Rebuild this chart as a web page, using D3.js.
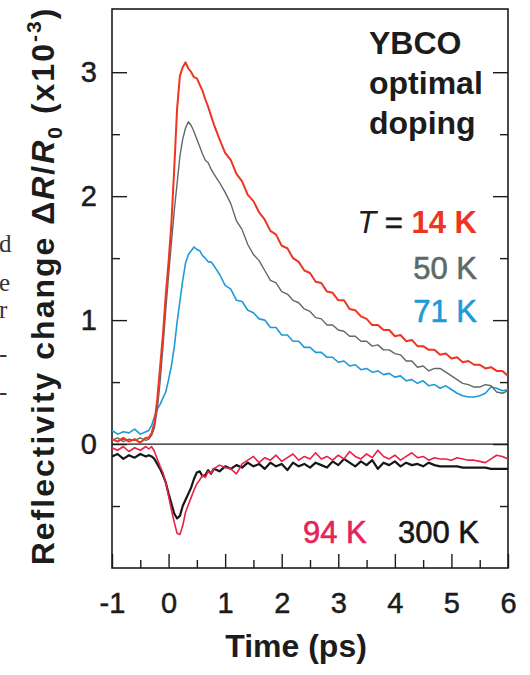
<!DOCTYPE html>
<html>
<head>
<meta charset="utf-8">
<script src="https://cdn.jsdelivr.net/npm/d3@7"></script>
<style>
  body { margin: 0; background: #fff; }
  svg { display: block; }
  .tick text { font-family: "Liberation Sans", Arial, sans-serif; font-size: 29px; fill: #1c1c1c; stroke: #1c1c1c; stroke-width: 0.5px; }
  .tick line { stroke: #1c1c1c; stroke-width: 1.4; }
</style>
</head>
<body>
<div id="chart"></div>
<script>
// time axis in ps (finer step around the rise)
const times = [-1.0, -0.9, -0.8, -0.7, -0.6, -0.5, -0.4,
  -0.35, -0.3, -0.25, -0.2, -0.15, -0.1, -0.05, 0, 0.05, 0.1, 0.15, 0.2, 0.25, 0.3, 0.35, 0.4,
  0.45, 0.5, 0.55, 0.6, 0.65, 0.7, 0.75, 0.8,
  0.9, 1.0, 1.1, 1.2, 1.3, 1.4, 1.5, 1.6, 1.7, 1.8, 1.9,
  2.0, 2.1, 2.2, 2.3, 2.4, 2.5, 2.6, 2.7, 2.8, 2.9,
  3.0, 3.1, 3.2, 3.3, 3.4, 3.5, 3.6, 3.7, 3.8, 3.9,
  4.0, 4.1, 4.2, 4.3, 4.4, 4.5, 4.6, 4.7, 4.8, 4.9,
  5.0, 5.1, 5.2, 5.3, 5.4, 5.5, 5.6, 5.7, 5.8, 5.9, 6.0];

// ΔR/R0 (x10^-3)
const r14K = [0.04, 0.02, 0.05, 0.02, 0.04, 0.01, 0.05,
  0.05, 0.09, 0.17, 0.36, 0.62, 0.88, 1.2, 1.47, 1.78, 2.22, 2.7, 2.97, 3.04, 3.08, 3.03, 3.0,
  2.96, 2.95, 2.9, 2.85, 2.78, 2.72, 2.65, 2.58,
  2.46, 2.35, 2.29, 2.18, 2.12, 2.01, 1.96, 1.87, 1.81, 1.72, 1.69,
  1.6, 1.58, 1.5, 1.47, 1.4, 1.38, 1.31, 1.3, 1.23, 1.22,
  1.16, 1.16, 1.09, 1.08, 1.03, 1.01, 0.96, 0.96, 0.92, 0.92,
  0.87, 0.88, 0.83, 0.84, 0.79, 0.79, 0.76, 0.76, 0.72, 0.73,
  0.69, 0.7, 0.66, 0.67, 0.64, 0.64, 0.61, 0.62, 0.59, 0.59, 0.55];

const r50K = [0.03, 0.05, 0.02, 0.04, 0.03, 0.05, 0.03,
  0.04, 0.07, 0.13, 0.28, 0.5, 0.78, 1.08, 1.36, 1.62, 1.88, 2.1, 2.32, 2.46, 2.55, 2.6, 2.57,
  2.52, 2.46, 2.4, 2.34, 2.29, 2.27, 2.22, 2.18,
  2.11, 2.03, 1.94, 1.8, 1.73, 1.61, 1.53, 1.48, 1.4, 1.32, 1.3,
  1.23, 1.21, 1.16, 1.14, 1.09, 1.07, 1.02, 1.01, 0.96, 0.96,
  0.92, 0.91, 0.87, 0.87, 0.83, 0.83, 0.79, 0.8, 0.76, 0.76,
  0.73, 0.72, 0.67, 0.67, 0.62, 0.63, 0.59, 0.61, 0.61, 0.58,
  0.55, 0.52, 0.49, 0.48, 0.46, 0.46, 0.48, 0.47, 0.42, 0.41, 0.43];

const r71K = [0.11, 0.08, 0.1, 0.09, 0.12, 0.08, 0.1,
  0.11, 0.15, 0.22, 0.28, 0.32, 0.37, 0.42, 0.52, 0.63, 0.78, 0.98, 1.15, 1.32, 1.46, 1.53, 1.56,
  1.59, 1.57, 1.56, 1.52, 1.5, 1.47, 1.47, 1.44,
  1.37, 1.28, 1.25, 1.16, 1.15, 1.08, 1.06, 1.01, 1.0, 0.94, 0.94,
  0.88, 0.88, 0.83, 0.83, 0.78, 0.78, 0.74, 0.74, 0.7, 0.7,
  0.66, 0.67, 0.63, 0.64, 0.6, 0.61, 0.58, 0.59, 0.56, 0.57,
  0.54, 0.55, 0.51, 0.52, 0.49, 0.51, 0.47, 0.48, 0.45, 0.47,
  0.44, 0.41, 0.39, 0.38, 0.38, 0.39, 0.41, 0.46, 0.45, 0.43, 0.44];

const r94K = [-0.03, -0.05, -0.02, -0.06, -0.03, -0.05, -0.02,
  -0.04, -0.02, -0.06, -0.12, -0.18, -0.23, -0.31, -0.42, -0.53, -0.63, -0.72, -0.73, -0.66, -0.55, -0.49, -0.43,
  -0.37, -0.32, -0.29, -0.25, -0.27, -0.22, -0.24, -0.2,
  -0.17, -0.19, -0.2, -0.24, -0.16, -0.13, -0.1, -0.15, -0.11, -0.13, -0.09,
  -0.14, -0.11, -0.08, -0.13, -0.1, -0.12, -0.07, -0.12, -0.1, -0.13,
  -0.09, -0.12, -0.06, -0.1, -0.12, -0.08, -0.11, -0.05, -0.1, -0.12,
  -0.09, -0.13, -0.1, -0.07, -0.11, -0.1, -0.13, -0.11, -0.12, -0.12,
  -0.13, -0.11, -0.12, -0.13, -0.13, -0.14, -0.15, -0.12, -0.09, -0.1, -0.12];

const r300K = [-0.1, -0.08, -0.12, -0.09, -0.11, -0.08, -0.1,
  -0.09, -0.1, -0.12, -0.16, -0.2, -0.25, -0.31, -0.4, -0.48, -0.56, -0.6, -0.58, -0.5, -0.45, -0.4, -0.35,
  -0.28, -0.23, -0.22, -0.26, -0.25, -0.21, -0.24, -0.2,
  -0.22, -0.18, -0.2, -0.17, -0.19, -0.15, -0.18, -0.16, -0.2, -0.15, -0.18,
  -0.16, -0.21, -0.15, -0.18, -0.16, -0.19, -0.15, -0.17, -0.19, -0.14,
  -0.17, -0.12, -0.15, -0.18, -0.14, -0.17, -0.13, -0.2, -0.15, -0.17,
  -0.14, -0.18, -0.15, -0.17, -0.16, -0.18, -0.15, -0.17, -0.18, -0.18,
  -0.18, -0.18, -0.19, -0.19, -0.19, -0.19, -0.19, -0.2, -0.2, -0.2, -0.2];

const xMajor = [-1, 0, 1, 2, 3, 4, 5, 6];
const xMinor = [-0.5, 0.5, 1.5, 2.5, 3.5, 4.5, 5.5];
const yMajor = [0, 1, 2, 3];
const yMinor = [-0.5, 0.5, 1.5, 2.5];

const W = 530, H = 675;
const font = '"Liberation Sans", Arial, sans-serif';
const ink = "#1c1c1c";

const svg = d3.select("#chart").append("svg")
    .attr("width", W)
    .attr("height", H);

const x = d3.scaleLinear().domain([-1, 6]).range([112, 508]);
const y = d3.scaleLinear().domain([-1, 3.51]).range([568, 9]);

// clip for the traces
svg.append("clipPath").attr("id", "plot")
  .append("rect")
    .attr("x", x(-1)).attr("y", y(3.51))
    .attr("width", x(6) - x(-1)).attr("height", y(-1) - y(3.51));

// bottom axis
svg.append("g")
    .attr("transform", `translate(0,${y(-1)})`)
    .call(d3.axisBottom(x).tickValues(xMajor).tickSizeInner(-14).tickSizeOuter(0).tickPadding(24)
      .tickFormat(d => d < 0 ? "-" + Math.abs(d) : d))
    .call(g => g.select(".domain").remove());
svg.append("g")
    .attr("transform", `translate(0,${y(-1)})`)
    .call(d3.axisBottom(x).tickValues(xMinor).tickSizeInner(-8).tickSizeOuter(0).tickFormat(""))
    .call(g => g.select(".domain").remove());

// left axis
svg.append("g")
    .attr("transform", `translate(${x(-1)},0)`)
    .call(d3.axisLeft(y).tickValues(yMajor).tickSizeInner(-15).tickSizeOuter(0).tickPadding(15)
      .tickFormat(d3.format("d")))
    .call(g => g.select(".domain").remove());
svg.append("g")
    .attr("transform", `translate(${x(-1)},0)`)
    .call(d3.axisLeft(y).tickValues(yMinor).tickSizeInner(-8).tickSizeOuter(0).tickFormat(""))
    .call(g => g.select(".domain").remove());

// right axis (mirror ticks)
svg.append("g")
    .attr("transform", `translate(${x(6)},0)`)
    .call(d3.axisRight(y).tickValues(yMajor).tickSizeInner(-15).tickSizeOuter(0).tickFormat(""))
    .call(g => g.select(".domain").remove());
svg.append("g")
    .attr("transform", `translate(${x(6)},0)`)
    .call(d3.axisRight(y).tickValues(yMinor).tickSizeInner(-8).tickSizeOuter(0).tickFormat(""))
    .call(g => g.select(".domain").remove());

// frame
svg.append("rect")
    .attr("x", x(-1)).attr("y", y(3.51))
    .attr("width", x(6) - x(-1)).attr("height", y(-1) - y(3.51))
    .attr("fill", "none")
    .attr("stroke", ink)
    .attr("stroke-width", 1.6);

// zero line
svg.append("line")
    .attr("x1", x(-1)).attr("x2", x(6))
    .attr("y1", y(0)).attr("y2", y(0))
    .attr("stroke", ink)
    .attr("stroke-width", 1.3);

const line = d3.line()
    .x(d => x(d.t))
    .y(d => y(d.v));

const series = [
  { vals: r71K, color: "#1e9ad8", w: 1.6 },
  { vals: r50K, color: "#5c6b63", w: 1.4 },
  { vals: r14K, color: "#ee3522", w: 2 },
  { vals: r300K, color: "#161616", w: 2.2 },
  { vals: r94K, color: "#e8204c", w: 1.6 }
];

svg.append("g")
    .attr("clip-path", "url(#plot)")
  .selectAll("path")
  .data(series)
  .enter()
  .append("path")
    .attr("d", s => line(times.map((t, i) => ({ t: t, v: s.vals[i] }))))
    .attr("fill", "none")
    .attr("stroke", s => s.color)
    .attr("stroke-width", s => s.w)
    .attr("stroke-linejoin", "round");

// y axis title
const yt = svg.append("text")
    .attr("transform", "translate(54,286) rotate(-90)")
    .attr("text-anchor", "middle")
    .style("font-family", font)
    .style("font-size", "32px")
    .style("font-weight", "bold")
    .style("letter-spacing", "2px")
    .style("fill", ink);
yt.append("tspan").text("Reflectivity change \u0394");
yt.append("tspan").style("font-style", "italic").text("R");
yt.append("tspan").text("/");
yt.append("tspan").style("font-style", "italic").text("R");
yt.append("tspan").attr("dy", 8).style("font-size", "21px").text("0");
yt.append("tspan").attr("dy", -8).text(" (x10");
yt.append("tspan").attr("dy", -13).style("font-size", "21px").text("-3");
yt.append("tspan").attr("dy", 13).text(")");

// x axis title
svg.append("text")
    .attr("x", 296).attr("y", 657)
    .attr("text-anchor", "middle")
    .style("font-family", font)
    .style("font-size", "32px")
    .style("font-weight", "bold")
    .style("fill", ink)
    .text("Time (ps)");

// sample label
["YBCO", "optimal", "doping"].forEach((s, i) => {
  svg.append("text")
      .attr("x", 369).attr("y", 54 + i * 40)
      .style("font-family", font)
      .style("font-size", "32px")
      .style("font-weight", "bold")
      .style("fill", ink)
      .text(s);
});

// temperature labels
const tl = svg.append("text")
    .attr("x", 477).attr("y", 233)
    .attr("text-anchor", "end")
    .style("font-family", font)
    .style("font-size", "31px");
tl.append("tspan").style("font-style", "italic").style("fill", ink).text("T");
tl.append("tspan").style("fill", ink).style("stroke", ink).style("stroke-width", 0.6).text(" = ");
tl.append("tspan").style("fill", "#ee3522").style("font-weight", "bold").text("14 K");

const tLabels = [
  { s: "50 K", x: 477, y: 279, c: "#5c6b63", a: "end" },
  { s: "71 K", x: 477, y: 322, c: "#1e9ad8", a: "end" },
  { s: "94 K", x: 303, y: 543, c: "#e5245a", a: "start" },
  { s: "300 K", x: 398, y: 543, c: "#161616", a: "start" }
];
tLabels.forEach(d => {
  svg.append("text")
      .attr("x", d.x).attr("y", d.y)
      .attr("text-anchor", d.a)
      .style("font-family", font)
      .style("font-size", "31px")
      .style("fill", d.c)
      .style("stroke", d.c)
      .style("stroke-width", 0.6)
      .text(d.s);
});

// bits of the neighbouring page text at the left edge
[["d", 252], ["e", 291], ["r", 318], ["-", 362], ["-", 400]].forEach(([s, yy]) => {
  svg.append("text")
      .attr("x", -1).attr("y", yy)
      .style("font-family", '"Liberation Serif", serif')
      .style("font-size", "25px")
      .style("fill", "#333")
      .text(s);
});
</script>
</body>
</html>
